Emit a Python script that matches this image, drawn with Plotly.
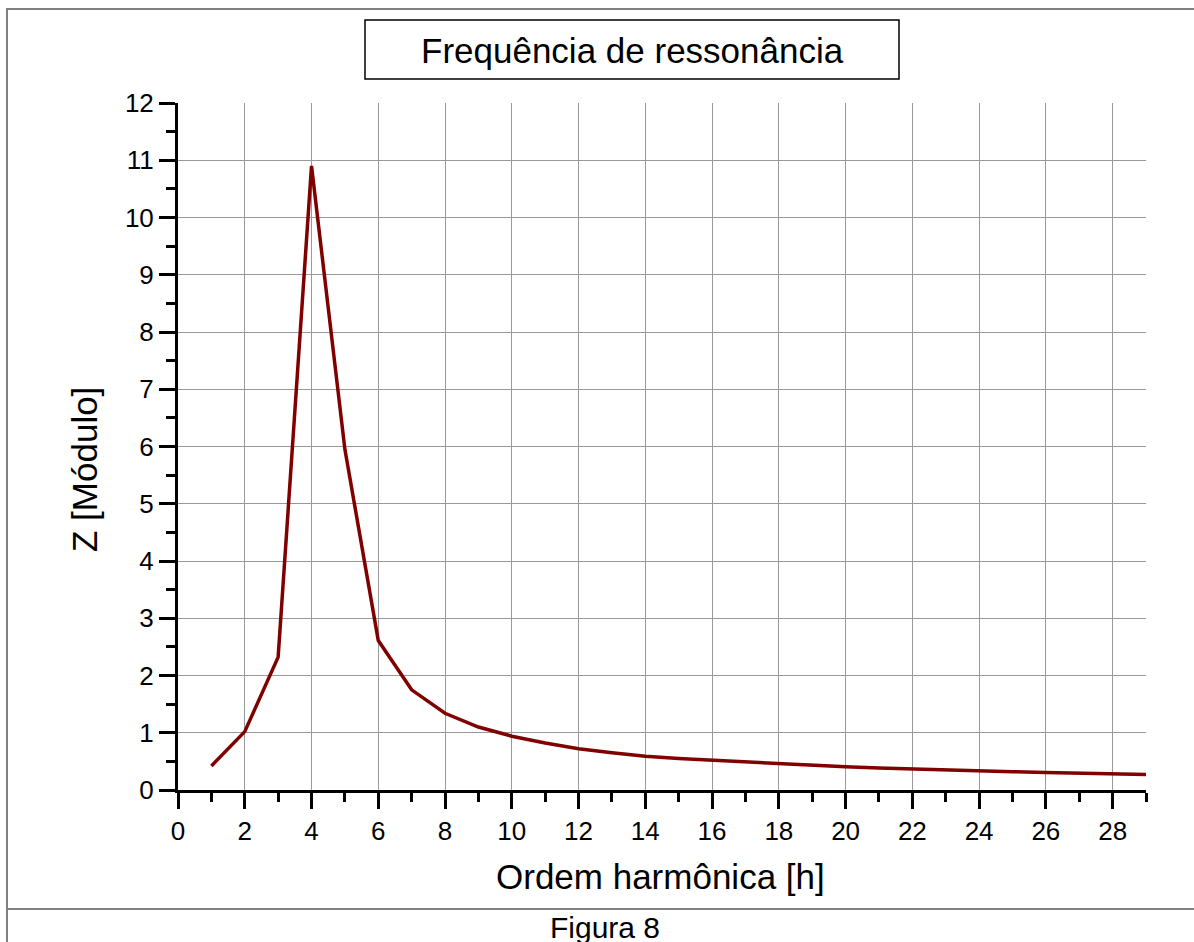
import plotly.graph_objects as go

# Data
harmonic_order = [1, 2, 3, 4, 5, 6, 7, 8, 9, 10, 11, 12, 13, 14, 15,
                  16, 17, 18, 19, 20, 21, 22, 23, 24, 25, 26, 27, 28, 29]
impedance = [0.42, 1.02, 2.32, 10.9, 5.95, 2.61, 1.75, 1.34, 1.10, 0.94,
             0.82, 0.72, 0.65, 0.59, 0.55, 0.52, 0.485, 0.455, 0.43, 0.405,
             0.385, 0.365, 0.35, 0.335, 0.32, 0.305, 0.29, 0.28, 0.27]

title_text = "Frequência de ressonância"
x_title = "Ordem harmônica [h]"
y_title = "Z [Módulo]"
caption = "Figura 8"

W, H = 1194, 942
# plot area in page pixels
L, R, T, B = 178, 1146, 103, 790
FONT = "Liberation Sans, Arial, sans-serif"


def px(x):
    return (x - L) / (R - L)


def py(y):
    return (B - y) / (B - T)


fig = go.Figure()
fig.add_trace(go.Scatter(
    x=harmonic_order, y=impedance, mode="lines",
    line=dict(color="#800000", width=3.5),
    showlegend=False, hoverinfo="skip",
))

axis_common = dict(
    showline=True, linecolor="black", linewidth=3,
    ticks="outside", ticklen=16, tickwidth=3, tickcolor="black",
    showgrid=True, gridcolor="#999999", gridwidth=1,
    zeroline=False,
    tickfont=dict(family=FONT, size=26, color="black"),
)

fig.update_xaxes(
    range=[0, 29], tick0=0, dtick=2,
    minor=dict(dtick=1, ticks="outside", ticklen=9, tickwidth=3,
               tickcolor="black", showgrid=False),
    **axis_common,
)
fig.update_yaxes(
    range=[0, 12], tick0=0, dtick=1,
    minor=dict(dtick=0.5, ticks="outside", ticklen=9, tickwidth=3,
               tickcolor="black", showgrid=False),
    **axis_common,
)

shapes = [
    # outer frame
    dict(type="line", xref="paper", yref="paper", x0=px(6), x1=px(W + 5),
         y0=py(9), y1=py(9), line=dict(color="#808080", width=2)),
    dict(type="line", xref="paper", yref="paper", x0=px(7), x1=px(7),
         y0=py(8), y1=py(H + 5), line=dict(color="#808080", width=2)),
    dict(type="line", xref="paper", yref="paper", x0=px(6), x1=px(W + 5),
         y0=py(909), y1=py(909), line=dict(color="#808080", width=2)),
    # title box
    dict(type="rect", xref="paper", yref="paper", x0=px(365), x1=px(899),
         y0=py(20), y1=py(79), line=dict(color="black", width=1.5),
         fillcolor="white"),
]

annotations = [
    dict(text=title_text, xref="paper", yref="paper", x=px(632), y=py(50),
         showarrow=False, xanchor="center", yanchor="middle",
         font=dict(family=FONT, size=35, color="black")),
    dict(text=x_title, xref="paper", yref="paper", x=px(660), y=py(876),
         showarrow=False, xanchor="center", yanchor="middle",
         font=dict(family=FONT, size=35, color="black")),
    dict(text=y_title, xref="paper", yref="paper", x=px(85), y=py(470),
         showarrow=False, xanchor="center", yanchor="middle", textangle=-90,
         font=dict(family=FONT, size=35, color="black")),
    dict(text=caption, xref="paper", yref="paper", x=px(605), y=py(927),
         showarrow=False, xanchor="center", yanchor="middle",
         font=dict(family=FONT, size=30, color="black")),
]

fig.update_layout(
    width=W, height=H,
    margin=dict(l=L, r=W - R, t=T, b=H - B, pad=0),
    paper_bgcolor="white", plot_bgcolor="white",
    shapes=shapes, annotations=annotations,
    showlegend=False, hovermode=False,
)

fig.write_html(
    "out.html",
    config={"displayModeBar": False},
    post_script=(
        "document.body.style.margin='0';"
        "document.body.style.overflow='hidden';"
    ),
)
